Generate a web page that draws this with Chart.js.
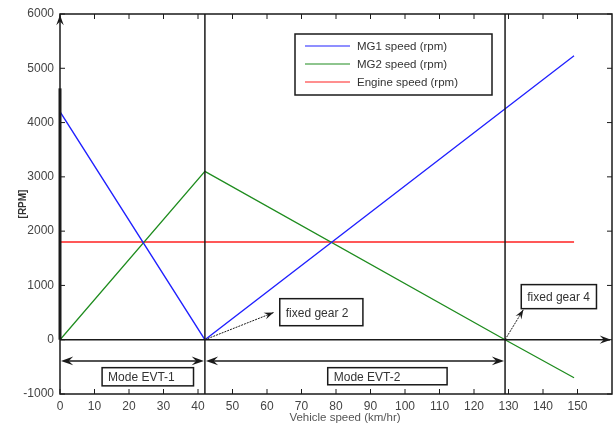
<!DOCTYPE html>
<html>
<head>
<meta charset="utf-8">
<script src="https://cdn.jsdelivr.net/npm/chart.js@4/dist/chart.umd.min.js"></script>
<style>
  html, body { margin: 0; padding: 0; background: #fff; }
  #wrap { width: 613px; height: 425px; }
</style>
</head>
<body>
<div id="wrap"><canvas id="c"></canvas></div>
<script>
// vehicle speed breakpoints (km/hr)
const mg1Speed = [0, 42, 149];
const mg1Rpm = [4200, 0, 5230];
const mg2Speed = [0, 42, 129, 149];
const mg2Rpm = [0, 3100, 0, -700];
const engSpeed = [0, 149];
const engRpm = [1800, 1800];

const xTicks = [0, 10, 20, 30, 40, 50, 60, 70, 80, 90, 100, 110, 120, 130, 140, 150];
const yTicks = [-1000, 0, 1000, 2000, 3000, 4000, 5000, 6000];

// mode switch points
const modeLines = [42, 129];
const modeLabels = ['Mode EVT-1', 'Mode EVT-2'];
const gearLabels = ['fixed gear 2', 'fixed gear 4'];

function pts(xs, ys) {
    return xs.map(function(x, i) { return { x: x, y: ys[i] }; });
}

const INK = '#1a1a1a';
const FONT = '"Liberation Sans", Arial, sans-serif';

function arrowHead(ctx, x1, y1, x2, y2, size) {
    const a = Math.atan2(y2 - y1, x2 - x1);
    ctx.beginPath();
    ctx.moveTo(x2, y2);
    ctx.lineTo(x2 - size * Math.cos(a - 0.35), y2 - size * Math.sin(a - 0.35));
    ctx.lineTo(x2 - size * 0.6 * Math.cos(a), y2 - size * 0.6 * Math.sin(a));
    ctx.lineTo(x2 - size * Math.cos(a + 0.35), y2 - size * Math.sin(a + 0.35));
    ctx.closePath();
    ctx.fill();
}

function textBox(ctx, xs, ys, x0, x1, y0, y1, label) {
    const l = xs.getPixelForValue(x0), r = xs.getPixelForValue(x1);
    const t = ys.getPixelForValue(y0), b = ys.getPixelForValue(y1);
    ctx.fillStyle = '#fff';
    ctx.fillRect(l, t, r - l, b - t);
    ctx.lineWidth = 1.5;
    ctx.strokeStyle = INK;
    ctx.strokeRect(l, t, r - l, b - t);
    ctx.fillStyle = '#333';
    ctx.font = '12px ' + FONT;
    ctx.textBaseline = 'middle';
    ctx.textAlign = 'left';
    ctx.fillText(label, l + 6, (t + b) / 2 + 1);
}

// frame, ticks, mode arrows, labels and legend
const decorPlugin = {
    id: 'decor',
    afterDatasetsDraw: function(chart) {
        const ctx = chart.ctx;
        const xs = chart.scales.x, ys = chart.scales.y;
        const a = chart.chartArea;
        ctx.save();

        // frame
        ctx.strokeStyle = INK;
        ctx.lineWidth = 1.5;
        ctx.strokeRect(a.left, a.top, a.right - a.left, a.bottom - a.top);

        // inward ticks
        ctx.lineWidth = 1;
        xTicks.forEach(function(v) {
            const px = xs.getPixelForValue(v);
            ctx.beginPath();
            ctx.moveTo(px, a.bottom); ctx.lineTo(px, a.bottom - 5);
            ctx.moveTo(px, a.top); ctx.lineTo(px, a.top + 5);
            ctx.stroke();
        });
        yTicks.forEach(function(v) {
            const py = ys.getPixelForValue(v);
            ctx.beginPath();
            ctx.moveTo(a.left, py); ctx.lineTo(a.left + 5, py);
            ctx.moveTo(a.right, py); ctx.lineTo(a.right - 5, py);
            ctx.stroke();
        });

        // zero axis with arrow
        const y0 = ys.getPixelForValue(0);
        const x0 = xs.getPixelForValue(0);
        ctx.fillStyle = INK;
        ctx.lineWidth = 1.5;
        ctx.beginPath();
        ctx.moveTo(x0, y0); ctx.lineTo(a.right - 2, y0);
        ctx.stroke();
        arrowHead(ctx, a.right - 20, y0, a.right - 1, y0, 12);

        // heavy rpm axis with arrow
        ctx.lineWidth = 3;
        ctx.beginPath();
        ctx.moveTo(x0, y0); ctx.lineTo(x0, ys.getPixelForValue(4630));
        ctx.stroke();
        arrowHead(ctx, x0, a.top + 20, x0, a.top + 1, 11);

        // mode switch lines
        ctx.lineWidth = 1.5;
        modeLines.forEach(function(v) {
            const px = xs.getPixelForValue(v);
            ctx.beginPath();
            ctx.moveTo(px, a.top); ctx.lineTo(px, a.bottom);
            ctx.stroke();
        });

        // mode span arrows
        const ay = ys.getPixelForValue(-390);
        const spans = [[0, modeLines[0]], [modeLines[0], modeLines[1]]];
        spans.forEach(function(s) {
            const l = xs.getPixelForValue(s[0]) + 1, r = xs.getPixelForValue(s[1]) - 1;
            ctx.lineWidth = 1.5;
            ctx.beginPath();
            ctx.moveTo(l + 6, ay); ctx.lineTo(r - 6, ay);
            ctx.stroke();
            arrowHead(ctx, r - 20, ay, r, ay, 13);
            arrowHead(ctx, l + 20, ay, l, ay, 13);
        });

        textBox(ctx, xs, ys, 12.2, 38.7, -515, -850, modeLabels[0]);
        textBox(ctx, xs, ys, 77.6, 112.2, -515, -830, modeLabels[1]);

        // fixed gear callouts
        ctx.fillStyle = INK;
        ctx.strokeStyle = INK;
        ctx.lineWidth = 1;
        ctx.setLineDash([2, 1]);
        const callouts = [[modeLines[0], 0, 61.9, 500], [modeLines[1], 0, 134.3, 553]];
        callouts.forEach(function(c) {
            const px1 = xs.getPixelForValue(c[0]), py1 = ys.getPixelForValue(c[1]);
            const px2 = xs.getPixelForValue(c[2]), py2 = ys.getPixelForValue(c[3]);
            ctx.beginPath();
            ctx.moveTo(px1, py1); ctx.lineTo(px2, py2);
            ctx.stroke();
        });
        ctx.setLineDash([]);
        callouts.forEach(function(c) {
            const px1 = xs.getPixelForValue(c[0]), py1 = ys.getPixelForValue(c[1]);
            const px2 = xs.getPixelForValue(c[2]), py2 = ys.getPixelForValue(c[3]);
            arrowHead(ctx, px1, py1, px2, py2, 10);
        });
        textBox(ctx, xs, ys, 63.7, 87.8, 756, 258, gearLabels[0]);
        textBox(ctx, xs, ys, 133.7, 155.5, 1015, 572, gearLabels[1]);

        // legend box
        const lx = 295, ly = 34, lw = 197, lh = 61;
        ctx.fillStyle = '#fff';
        ctx.fillRect(lx, ly, lw, lh);
        ctx.lineWidth = 1.5;
        ctx.strokeStyle = INK;
        ctx.strokeRect(lx, ly, lw, lh);
        ctx.font = '11.5px ' + FONT;
        ctx.textAlign = 'left';
        ctx.textBaseline = 'middle';
        chart.data.datasets.forEach(function(ds, i) {
            const yy = ly + 12 + i * 18;
            ctx.strokeStyle = ds.borderColor;
            ctx.lineWidth = 1.2;
            ctx.beginPath();
            ctx.moveTo(lx + 10, yy); ctx.lineTo(lx + 55, yy);
            ctx.stroke();
            ctx.fillStyle = '#333';
            ctx.fillText(ds.label, lx + 62, yy + 1);
        });

        // axis titles
        ctx.fillStyle = '#555';
        ctx.font = '11.5px ' + FONT;
        ctx.textAlign = 'center';
        ctx.fillText('Vehicle speed (km/hr)', (a.left + a.right) / 2 + 9, 418);
        ctx.save();
        ctx.translate(23, (a.top + a.bottom) / 2);
        ctx.rotate(-Math.PI / 2);
        ctx.fillStyle = '#333';
        ctx.font = 'bold 10px ' + FONT;
        ctx.fillText('[RPM]', 0, 0);
        ctx.restore();

        ctx.restore();
    }
};

new Chart(document.getElementById('c'), {
    type: 'line',
    data: {
        datasets: [
            { label: 'MG1 speed (rpm)', data: pts(mg1Speed, mg1Rpm), borderColor: '#2020ff' },
            { label: 'MG2 speed (rpm)', data: pts(mg2Speed, mg2Rpm), borderColor: '#1e8c1e' },
            { label: 'Engine speed (rpm)', data: pts(engSpeed, engRpm), borderColor: '#ff2020' }
        ]
    },
    options: {
        responsive: true,
        maintainAspectRatio: false,
        animation: false,
        devicePixelRatio: 1,
        layout: { padding: { top: 14, right: 1, left: 0, bottom: 0 } },
        elements: {
            line: { borderWidth: 1.3, tension: 0 },
            point: { radius: 0 }
        },
        plugins: {
            legend: { display: false },
            tooltip: { enabled: false }
        },
        scales: {
            x: {
                type: 'linear',
                min: 0,
                max: 160,
                afterBuildTicks: function(s) { s.ticks = xTicks.map(function(v) { return { value: v }; }); },
                afterFit: function(s) { s.height = 31; },
                grid: { display: false, drawTicks: false, tickLength: 0 },
                border: { display: false },
                ticks: { color: '#444', font: { family: FONT, size: 12 }, padding: 5, maxRotation: 0,
                    callback: function(v) { return String(v); } }
            },
            y: {
                min: -1000,
                max: 6000,
                afterBuildTicks: function(s) { s.ticks = yTicks.map(function(v) { return { value: v }; }); },
                afterFit: function(s) { s.width = 60; },
                grid: { display: false, drawTicks: false, tickLength: 0 },
                border: { display: false },
                ticks: { color: '#444', font: { family: FONT, size: 12 }, padding: 6,
                    callback: function(v) { return String(v); } }
            }
        }
    },
    plugins: [decorPlugin]
});
</script>
</body>
</html>
